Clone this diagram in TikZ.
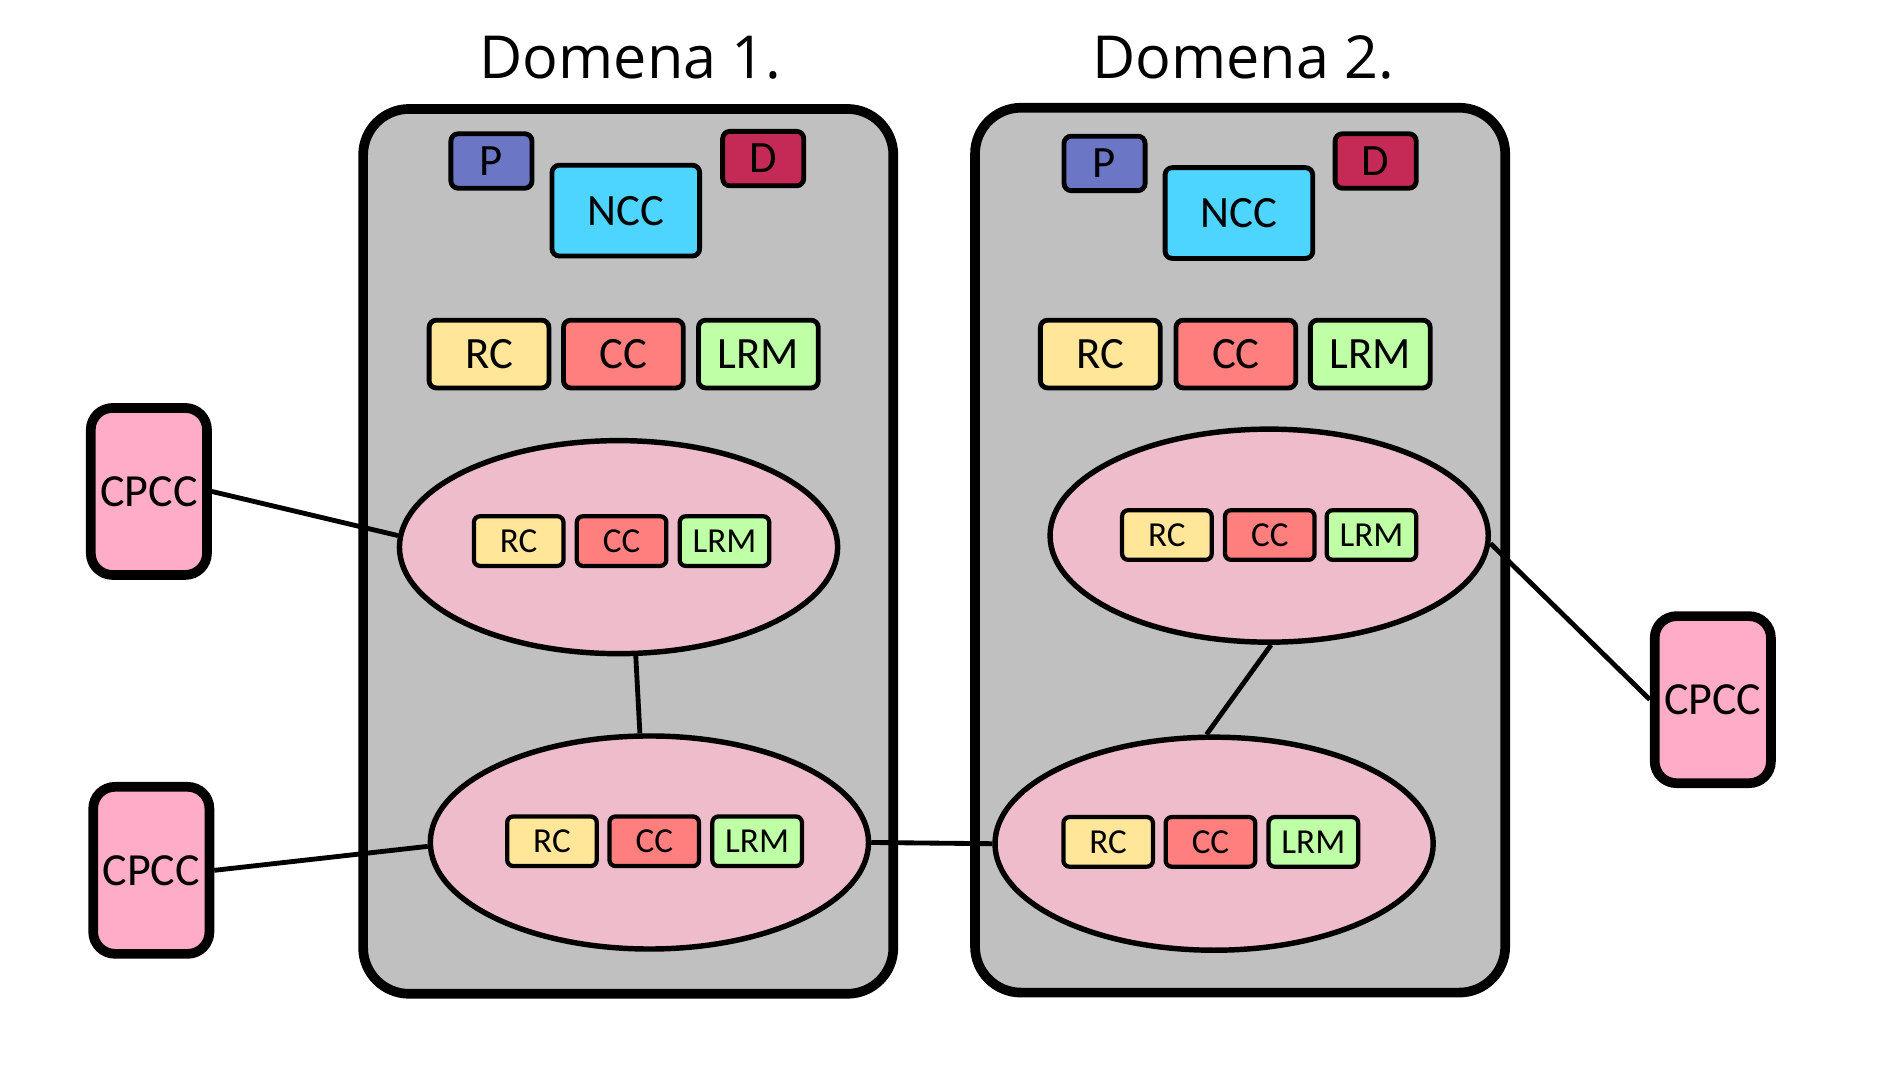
\documentclass[tikz,border=0pt]{standalone}
\usepackage{fontspec}
\setmainfont{Carlito}
\newfontfamily\titlefont{Open Sans}
\usetikzlibrary{shapes.geometric}
\definecolor{domgray}{HTML}{C0C0C0}
\definecolor{ellpink}{HTML}{EEBCCB}
\definecolor{cpccpink}{HTML}{FFACC8}
\definecolor{pblue}{HTML}{6B77C4}
\definecolor{dred}{HTML}{C42A55}
\definecolor{nccblue}{HTML}{4DD4FF}
\definecolor{rcyel}{HTML}{FFE699}
\definecolor{ccred}{HTML}{FF7F7F}
\definecolor{lrmgreen}{HTML}{BFFFA6}
\tikzset{
  domainbox/.style={draw=black, line width=8pt, fill=domgray, rounded corners=38pt,
     minimum width=438pt, minimum height=731pt, inner sep=0pt},
  bigbox/.style={draw=black, line width=4pt, rounded corners=6pt, inner sep=0pt,
     minimum width=99pt, minimum height=56pt, font=\fontsize{37}{40}\selectfont},
  smallbox/.style={draw=black, line width=3.5pt, rounded corners=5pt, inner sep=0pt,
     minimum width=74pt, minimum height=41pt, font=\fontsize{29}{32}\selectfont},
  pdbox/.style={draw=black, line width=4pt, rounded corners=6pt, inner sep=0pt,
     minimum width=67pt, minimum height=45pt, font=\fontsize{37}{40}\selectfont},
  nccbox/.style={draw=black, line width=4pt, rounded corners=6pt, inner sep=0pt, fill=nccblue,
     minimum width=122pt, minimum height=75pt, font=\fontsize{37}{40}\selectfont},
  ellnode/.style={draw=black, line width=4.5pt, fill=ellpink, ellipse, inner sep=0pt,
     minimum width=362pt, minimum height=176pt},
  cpccbox/.style={draw=black, line width=8pt, fill=cpccpink, rounded corners=18pt, inner sep=0pt,
     minimum width=96pt, minimum height=138pt, font=\fontsize{38}{42}\selectfont},
  titletext/.style={anchor=base, inner sep=0pt, font=\titlefont\fontsize{49}{54}\selectfont},
  conn/.style={draw=black, line width=4pt},
}
\begin{document}
\begin{tikzpicture}[x=1pt,y=-1pt]
\useasboundingbox (0,0) rectangle (1568,892);
\fill[white] (0,0) rectangle (1568,892);

% titles
\node[titletext] (t1) at (521,65) {Domena 1.};
\node[titletext] (t2) at (1027,65) {Domena 2.};

% domains
\node[domainbox] (dom1) at (519,455.5) {};
\node[domainbox] (dom2) at (1024.5,454.5) {};

% domain 1 top
\node[pdbox, fill=pblue] (p1) at (406,133) {P};
\node[pdbox, fill=dred] (d1) at (630.5,131) {D};
\node[nccbox] (ncc1) at (517,174) {NCC};
\node[bigbox, fill=rcyel] (rc1) at (404,292.5) {RC};
\node[bigbox, fill=ccred] (cc1) at (515,292.5) {CC};
\node[bigbox, fill=lrmgreen] (lrm1) at (626.5,292.5) {LRM};

% domain 2 top
\node[pdbox, fill=pblue] (p2) at (912.5,135) {P};
\node[pdbox, fill=dred] (d2) at (1136.5,133) {D};
\node[nccbox] (ncc2) at (1023.5,176) {NCC};
\node[bigbox, fill=rcyel] (rc2) at (909,292.5) {RC};
\node[bigbox, fill=ccred] (cc2) at (1021,292.5) {CC};
\node[bigbox, fill=lrmgreen] (lrm2) at (1132,292.5) {LRM};

% ellipses
\node[ellnode] (e1t) at (511,452) {};
\node[ellnode] (e1b) at (536.5,696) {};
\node[ellnode] (e2t) at (1048.5,442.5) {};
\node[ellnode] (e2b) at (1003,697) {};

% small boxes
\node[smallbox, fill=rcyel] (rc1t) at (428.5,447) {RC};
\node[smallbox, fill=ccred] (cc1t) at (513.5,447) {CC};
\node[smallbox, fill=lrmgreen] (lrm1t) at (598.5,447) {LRM};

\node[smallbox, fill=rcyel] (rc1b) at (456,695) {RC};
\node[smallbox, fill=ccred] (cc1b) at (540.5,695) {CC};
\node[smallbox, fill=lrmgreen] (lrm1b) at (625.5,695) {LRM};

\node[smallbox, fill=rcyel] (rc2t) at (964,442) {RC};
\node[smallbox, fill=ccred] (cc2t) at (1049,442) {CC};
\node[smallbox, fill=lrmgreen] (lrm2t) at (1133,442) {LRM};

\node[smallbox, fill=rcyel] (rc2b) at (915.5,695.5) {RC};
\node[smallbox, fill=ccred] (cc2b) at (1000,695.5) {CC};
\node[smallbox, fill=lrmgreen] (lrm2b) at (1085,695.5) {LRM};

% CPCC
\node[cpccbox] (c1) at (123,406) {CPCC};
\node[cpccbox] (c2) at (125,719) {CPCC};
\node[cpccbox] (c3) at (1415,578) {CPCC};

% connectors
\draw[conn] (c1.east) -- (e1t.177);
\draw[conn] (e1t.279) -- (e1b.95);
\draw[conn] (c2.east) -- (e1b.181);
\draw[conn] (e1b.east) -- (e2b.west);
\draw[conn] (e2t.271) -- (e2b.94);
\draw[conn] (e2t.358) -- (c3.west);
\end{tikzpicture}
\end{document}
